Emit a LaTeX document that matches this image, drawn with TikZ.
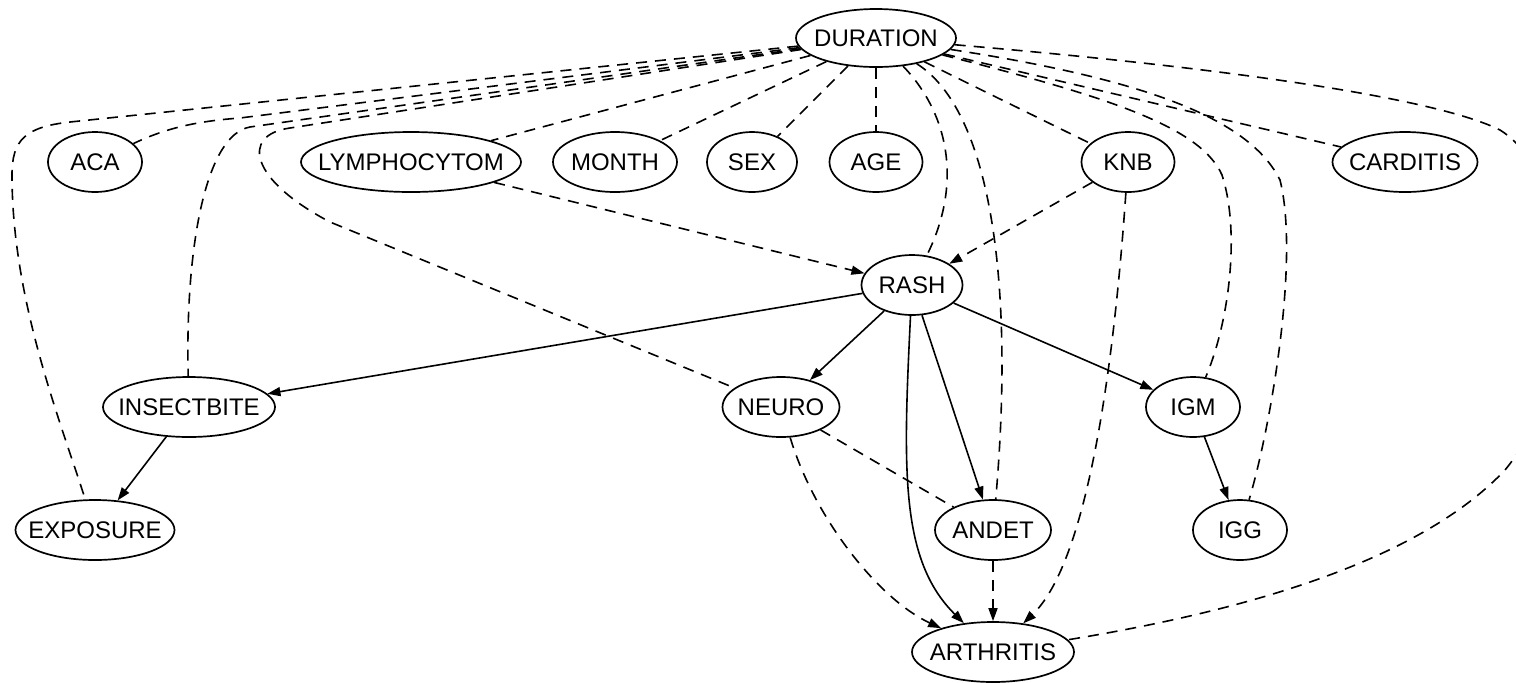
\documentclass[tikz,border=0pt]{standalone}
\usepackage{fontspec}
\setmainfont{Liberation Sans}
\usetikzlibrary{shapes.geometric,arrows.meta}

\tikzset{
  var/.style={draw, ellipse, line width=0.85pt, inner sep=0pt,
    minimum height=30pt, font=\fontsize{12}{14}\selectfont},
  link/.style={line width=0.8pt, dash pattern=on 5.5pt off 4pt},
  dlink/.style={link, -{Triangle[length=6.5pt,width=4.5pt]}},
  slink/.style={line width=0.8pt, -{Triangle[length=6.5pt,width=4.5pt]}},
}
\newcommand{\vname}[1]{\makebox[0pt]{#1}}

\begin{document}
\begin{tikzpicture}[x=0.5pt, y=-0.5pt]
\useasboundingbox (0,0) rectangle (1516,682);
\clip (0,0) rectangle (1516,682);

% variables
\node[var, minimum width=80pt, minimum height=29pt] (dur) at (876,38) {\vname{DURATION}};
\node[var, minimum width=47pt]   (aca)   at (95,162)   {\vname{ACA}};
\node[var, minimum width=110pt]  (lym)   at (411,162)  {\vname{LYMPHOCYTOM}};
\node[var, minimum width=62pt]   (month) at (615,162)  {\vname{MONTH}};
\node[var, minimum width=45pt]   (sex)   at (752,162)  {\vname{SEX}};
\node[var, minimum width=46.5pt] (age)   at (876,162)  {\vname{AGE}};
\node[var, minimum width=46.5pt] (knb)   at (1128,162) {\vname{KNB}};
\node[var, minimum width=72.5pt] (card)  at (1405,162) {\vname{CARDITIS}};
\node[var, minimum width=50.5pt] (rash)  at (912,285)  {\vname{RASH}};
\node[var, minimum width=86pt]   (ins)   at (189,407)  {\vname{INSECTBITE}};
\node[var, minimum width=58.5pt] (neuro) at (781,407)  {\vname{NEURO}};
\node[var, minimum width=47pt]   (igm)   at (1193,407) {\vname{IGM}};
\node[var, minimum width=79.5pt] (expo)  at (95,530)   {\vname{EXPOSURE}};
\node[var, minimum width=58pt]   (andet) at (993,530)  {\vname{ANDET}};
\node[var, minimum width=47pt]   (igg)   at (1240,530) {\vname{IGG}};
\node[var, minimum width=81pt]   (arth)  at (993,652)  {\vname{ARTHRITIS}};

% undirected links from DURATION
\draw[link] (dur) -- (240,118) .. controls (200,121) and (168,127) .. (aca);
\draw[link] (dur) -- (lym);
\draw[link] (dur) -- (month);
\draw[link] (dur) -- (sex);
\draw[link] (dur) -- (age);
\draw[link] (dur) -- (knb);
\draw[link] (dur) -- (card);
\draw[link] (dur) .. controls (950,115) and (962,185) .. (rash);
\draw[link] (dur) .. controls (990,110) and (1015,280) .. (andet);
\draw[link] (dur) .. controls (1100,95) and (1200,125) .. (1222,175)
                 .. controls (1240,230) and (1230,320) .. (igm);
\draw[link] (dur) .. controls (1150,80) and (1250,120) .. (1280,180)
                 .. controls (1300,260) and (1270,430) .. (igg);
\draw[link] (dur) .. controls (1250,70) and (1440,100) .. (1500,130)
                 .. controls (1580,180) and (1580,380) .. (1505,470)
                 .. controls (1420,560) and (1250,610) .. (arth);
\draw[link] (dur) -- (70,122) .. controls (25,127) and (12,140) .. (12,175)
                 .. controls (12,300) and (60,420) .. (expo);
\draw[link] (dur) -- (250,127) .. controls (205,135) and (185,250) .. (ins);
\draw[link] (dur) -- (290,128) .. controls (240,135) and (250,180) .. (330,222) -- (neuro);

% other dashed links
\draw[dlink] (lym) -- (rash);
\draw[dlink] (knb) -- (rash);
\draw[dlink] (knb) .. controls (1115,350) and (1090,560) .. (arth);
\draw[dlink] (neuro) .. controls (815,520) and (880,600) .. (arth);
\draw[dlink] (andet) -- (arth);
\draw[link] (neuro) -- (andet);

% directed solid links
\draw[slink] (rash) -- (ins);
\draw[slink] (rash) -- (neuro);
\draw[slink] (rash) -- (igm);
\draw[slink] (rash) -- (andet);
\draw[slink] (rash) .. controls (903,470) and (900,560) .. (arth);
\draw[slink] (ins) -- (expo);
\draw[slink] (igm) -- (igg);
\end{tikzpicture}
\end{document}
